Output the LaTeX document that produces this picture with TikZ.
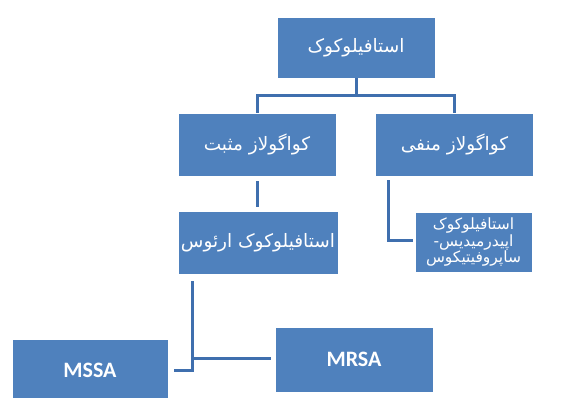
\documentclass[tikz,border=0pt]{standalone}
\usepackage{fontspec}
\newfontfamily\arabicfont[Script=Arabic]{DejaVu Sans}
\newfontfamily\latinfont{Carlito}
\TeXXeTstate=1
\definecolor{boxblue}{HTML}{4F81BD}
\definecolor{linkblue}{HTML}{3F6FAE}
\tikzset{
  box/.style={draw=white, line width=0.8pt, fill=boxblue, text=white, inner sep=0pt, minimum width=158pt, minimum height=63pt, align=center},
  link/.style={draw=linkblue, line width=3pt}
}
\newcommand{\fa}[1]{\arabicfont\fontsize{18.5}{21}\selectfont\beginR #1\endR}
\newcommand{\fas}[1]{\arabicfont\fontsize{15.5}{20}\selectfont\beginR #1\endR}
\begin{document}
\begin{tikzpicture}[x=1pt,y=-1pt]
\useasboundingbox (0,0) rectangle (565,397);
\clip (0,0) rectangle (565,397);
\node[box, minimum height=61pt] (top) at (356,47.5) {\fa{استافیلوکوک}};
\node[box] (pos) at (257,144.5) {\fa{کواگولاز مثبت}};
\node[box] (neg) at (454.5,144.5) {\fa{کواگولاز منفی}};
\node[box, minimum width=160pt] (aur) at (258,242.5) {\fa{استافیلوکوک ارئوس}};
\node[box, minimum width=117pt, minimum height=60pt] (epi) at (473.5,242) {\fas{استافیلوکوک}\\\fas{اپیدرمیدیس-}\\\fas{ساپروفیتیکوس}};
\node[box, minimum height=65pt] (mrsa) at (354,359.5) {\latinfont\bfseries\fontsize{22}{24}\selectfont MRSA};
\node[box, minimum width=156pt] (mssa) at (90,370.5) {\latinfont\bfseries\fontsize{22}{24}\selectfont MSSA};
% connectors
\coordinate (bar) at (356,95);
\draw[link] (top.south) -- (bar);
\draw[link] (pos.north) |- (bar) -| (neg.north);
\coordinate (pa1) at (257,181);
\coordinate (pa2) at (257,207);
\draw[link] (pa1) -- (pa2);
\coordinate (ne1) at (388,180);
\coordinate (ne2) at (413,240);
\draw[link] (ne1) |- (ne2);
\coordinate (au1) at (192,281);
\coordinate (ms1) at (174,370);
\coordinate (mr1) at (271,358);
\draw[link] (au1) |- (ms1);
\draw[link] (192,358) -- (mr1);
\end{tikzpicture}
\end{document}
